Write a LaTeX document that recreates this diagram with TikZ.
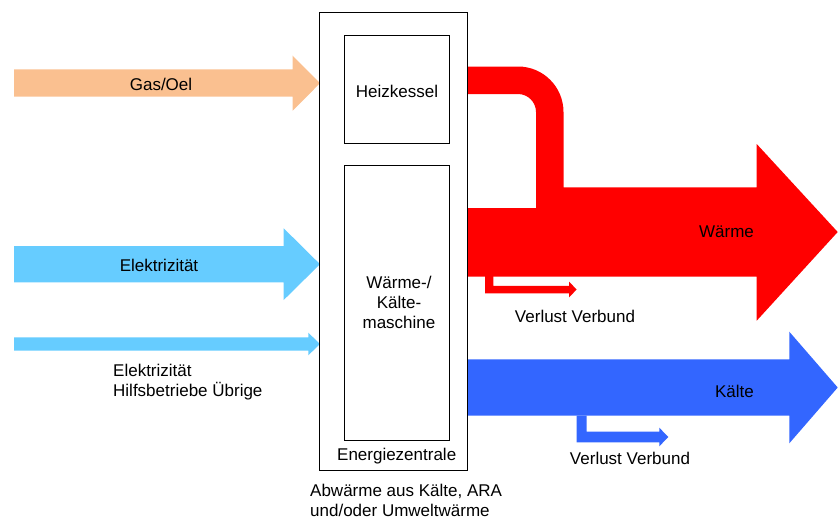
\documentclass[tikz,border=0pt]{standalone}
\usepackage{fontspec}
\setmainfont{Liberation Sans}
\usetikzlibrary{calc}
\definecolor{gasoel}{RGB}{250,192,144}
\definecolor{elek}{RGB}{102,204,255}
\definecolor{waerme}{RGB}{255,0,0}
\definecolor{kaelte}{RGB}{51,102,255}
\tikzset{%
    box/.style={draw, line width=0.8pt, rectangle, inner sep=0pt},
    txt/.style={font=\fontsize{17}{20}\selectfont, inner sep=0pt, align=center, anchor=base},
    txtl/.style={txt, align=left, anchor=base west},
}

\begin{document}
\begin{tikzpicture}[x=1pt, y=-1pt]
    \useasboundingbox (0,0) rectangle (838,522);
    % inputs
    \fill [gasoel] (14,69.3) -- (292.7,69.3) -- (292.7,55.7) -- (320,83.2) -- (292.7,110.7) -- (292.7,96.7) -- (14,96.7) -- cycle;
    \fill [elek] (14,246) -- (283.7,246) -- (283.7,228.3) -- (320,264.2) -- (283.7,300) -- (283.7,282.3) -- (14,282.3) -- cycle;
    \fill [elek] (14,337.3) -- (308.3,337.3) -- (308.3,332.7) -- (320,344) -- (308.3,355.3) -- (308.3,350.7) -- (14,350.7) -- cycle;
    % outputs
    \fill [waerme] (468,208) -- (536,208) -- (536,112) arc[start angle=0, end angle=-90, radius=18] -- (468,94) -- (468,66.5)
        -- (518,66.5) arc[start angle=-90, end angle=0, radius=45.5] -- (563.5,187.3) -- (756.7,187.3) -- (756.7,144)
        -- (837.7,232) -- (756.7,320.7) -- (756.7,276.5) -- (468,276.5) -- cycle;
    \fill [waerme] (485,276) -- (493.3,276) -- (493.3,285.8) -- (569,285.8) -- (569,281.7) -- (576.7,289.5) -- (569,297.3) -- (569,293.3) -- (485,293.3) -- cycle;
    \fill [kaelte] (468,359.3) -- (789.3,359.3) -- (789.3,331.7) -- (837.7,387.5) -- (789.3,443.3) -- (789.3,415.7) -- (468,415.7) -- cycle;
    \fill [kaelte] (576.7,415.7) -- (586.7,415.7) -- (586.7,431.7) -- (659.3,431.7) -- (659.3,427.7) -- (668.3,437) -- (659.3,446.3) -- (659.3,442.3) -- (576.7,442.3) -- cycle;
    % Energiezentrale
    \node [box, minimum width=148pt, minimum height=458pt] (ez) at (393,241) {};
    \node [box, minimum width=105pt, minimum height=108pt] (hk) at (396.5,89) {};
    \node [box, minimum width=105pt, minimum height=275pt] (wkm) at (396.5,302.5) {};
    \node [txt] (hklab) at (397,97.7) {Heizkessel};
    \node [txt] (wkmlab) at (399,328.3) {Wärme-/\\Kälte-\\maschine};
    \node [txt] (ezlab) at (396.7,460.7) {Energiezentrale};
    % labels
    \node [txt] (gaslab) at (161,90) {Gas/Oel};
    \node [txt] (eleklab) at (159,271) {Elektrizität};
    \node [txtl] (hilfslab) at (113,396.7) {Elektrizität\\Hilfsbetriebe Übrige};
    \node [txt] (wlab) at (726.5,237.7) {Wärme};
    \node [txt] (klab) at (734.5,397.3) {Kälte};
    \node [txt] (vwlab) at (575,322.7) {Verlust Verbund};
    \node [txt] (vklab) at (630,464.5) {Verlust Verbund};
    \node [txtl] (abwlab) at (310,516) {Abwärme aus Kälte, ARA\\und/oder Umweltwärme};
\end{tikzpicture}
\end{document}
